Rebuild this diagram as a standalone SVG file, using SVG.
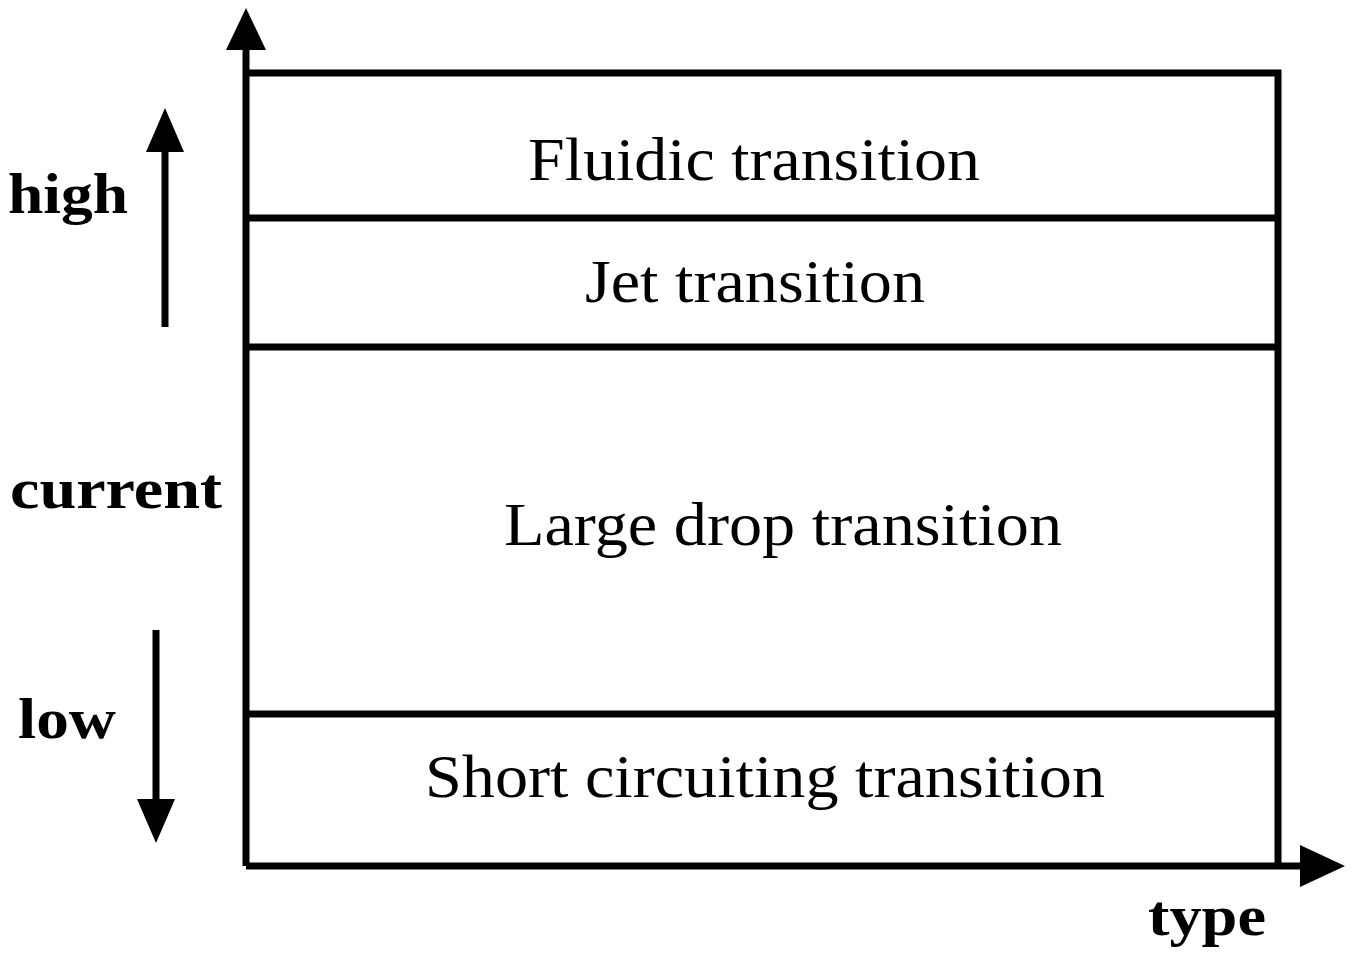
<svg xmlns="http://www.w3.org/2000/svg" width="1355" height="959" viewBox="0 0 1355 959">
<style>
.l{stroke:#000;stroke-width:7;fill:none}
.t{font-family:"Liberation Serif",serif;font-size:62px;text-anchor:middle}
.b{font-family:"Liberation Serif",serif;font-size:58px;font-weight:bold}
</style>
<rect width="1355" height="959" fill="#fff"/>
<g id="connectors">
<line class="l" x1="246" y1="44" x2="246" y2="866"/>
<polygon points="246,8 226,50 266,50"/>
<line class="l" x1="246" y1="866" x2="1305" y2="866"/>
<polygon points="1345,866 1300,845 1300,887"/>
<line class="l" x1="165" y1="327" x2="165" y2="145"/>
<polygon points="165,108 146,152 184,152"/>
<line class="l" x1="156" y1="630" x2="156" y2="805"/>
<polygon points="156,843 137,799 175,799"/>
</g>
<g id="box"><polyline class="l" points="246,73 1278,73 1278,866"/></g>
<g id="fluidic"><line class="l" x1="246" y1="218" x2="1278" y2="218"/><text class="t" x="754" y="180" textLength="452" lengthAdjust="spacingAndGlyphs">Fluidic transition</text></g>
<g id="jet"><line class="l" x1="246" y1="347" x2="1278" y2="347"/><text class="t" x="755" y="302" textLength="340" lengthAdjust="spacingAndGlyphs">Jet transition</text></g>
<g id="large"><line class="l" x1="246" y1="714" x2="1278" y2="714"/><text class="t" x="783" y="545" textLength="558" lengthAdjust="spacingAndGlyphs">Large drop transition</text></g>
<g id="short"><text class="t" x="765" y="797" textLength="680" lengthAdjust="spacingAndGlyphs">Short circuiting transition</text></g>
<g id="labels">
<text class="b" x="8" y="213" textLength="120" lengthAdjust="spacingAndGlyphs">high</text>
<text class="b" x="10" y="508" textLength="212" lengthAdjust="spacingAndGlyphs">current</text>
<text class="b" x="18" y="738" textLength="98" lengthAdjust="spacingAndGlyphs">low</text>
<text class="b" x="1148" y="935" textLength="118" lengthAdjust="spacingAndGlyphs">type</text>
</g>
</svg>
